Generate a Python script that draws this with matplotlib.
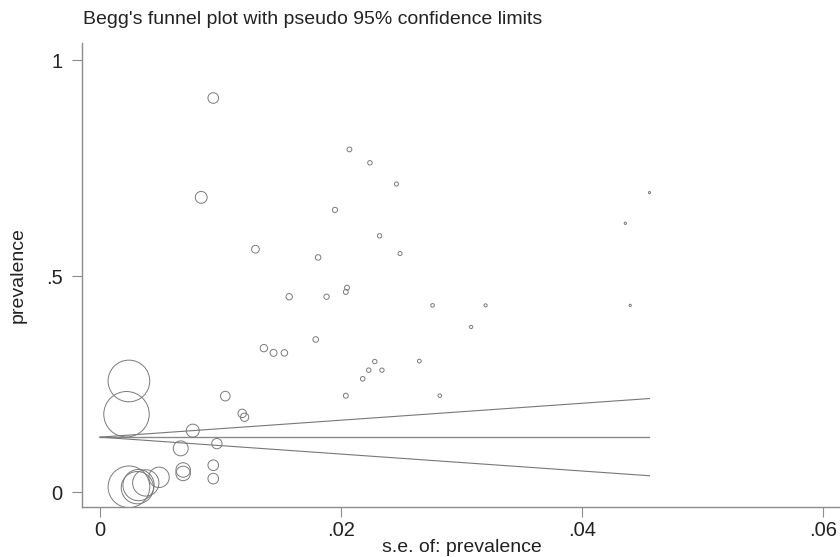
import matplotlib
matplotlib.use("Agg")
import matplotlib.pyplot as plt
import numpy as np

plt.rcParams['font.family'] = ['Liberation Sans', 'DejaVu Sans']

# standard errors (x) and prevalence (y)
se = [0.0094, 0.0084, 0.0207, 0.0224, 0.0246, 0.0195, 0.0232, 0.0129, 0.0249,
      0.0181, 0.0157, 0.0188, 0.0205, 0.0204, 0.0276, 0.0179, 0.0136, 0.0144,
      0.0153, 0.0228, 0.0265, 0.0223, 0.0234, 0.0218, 0.0104, 0.0204, 0.0282,
      0.0456, 0.0436, 0.0320, 0.0440, 0.0308, 0.0024, 0.0022, 0.0118, 0.0120,
      0.0077, 0.0097, 0.0067, 0.0069, 0.0069, 0.0094, 0.0094, 0.0024, 0.0031,
      0.0032, 0.0038, 0.0049]
prevalence = [0.912, 0.682, 0.793, 0.762, 0.713, 0.653, 0.593, 0.562, 0.552,
              0.543, 0.452, 0.452, 0.473, 0.463, 0.432, 0.353, 0.333, 0.322,
              0.322, 0.302, 0.303, 0.282, 0.282, 0.262, 0.222, 0.223, 0.223,
              0.693, 0.622, 0.432, 0.432, 0.382, 0.257, 0.180, 0.182, 0.173,
              0.142, 0.112, 0.101, 0.051, 0.043, 0.062, 0.031, 0.012, 0.010,
              0.016, 0.021, 0.034]
pooled = 0.127
se_max = 0.0456

xticks = [0, 0.02, 0.04, 0.06]
xticklabels = ['0', '.02', '.04', '.06']
yticks = [0, 0.5, 1]
yticklabels = ['0', '.5', '1']

fig = plt.figure(figsize=(8.4, 5.57), dpi=100)
ax = fig.add_axes([82/840, 50/557, 758/840, 464/557])

se_arr = np.array(se)
sizes = (0.072 / se_arr) ** 2
ax.scatter(se_arr, prevalence, s=sizes, facecolors='none', edgecolors='#7a7a7a',
           linewidths=0.7, zorder=3)

xs = np.array([0, se_max])
ax.plot(xs, [pooled, pooled], color='#8a8a8a', lw=1.0)
ax.plot(xs, pooled + 1.96 * xs, color='#777777', lw=0.8)
ax.plot(xs, pooled - 1.96 * xs, color='#777777', lw=0.8)

ax.set_xlim(-18/12050, 740/12050)
ax.set_ylim(-15/432, 449/432)

for s in ['top', 'right']:
    ax.spines[s].set_visible(False)
for s in ['left', 'bottom']:
    ax.spines[s].set_color('#8c8c8c')
    ax.spines[s].set_linewidth(1.0)

ax.set_xticks(xticks)
ax.set_xticklabels(xticklabels)
ax.set_yticks(yticks)
ax.set_yticklabels(yticklabels)
ax.tick_params(axis='both', colors='#8c8c8c', labelcolor='#222222',
               labelsize=14.5, length=7, width=0.8)
ax.tick_params(axis='y', pad=7)
ax.tick_params(axis='x', pad=3)

fig.text(462/840, 1 - 547/557, 's.e. of: prevalence', ha='center', va='center',
         fontsize=14, color='#222222')
fig.text(18/840, 1 - 275/557, 'prevalence', ha='center', va='center',
         rotation=90, fontsize=14, color='#222222')
fig.text(83/840, 1 - 19/557, "Begg's funnel plot with pseudo 95% confidence limits",
         ha='left', va='center', fontsize=14, color='#222222')

fig.savefig('out.png', dpi=100)
